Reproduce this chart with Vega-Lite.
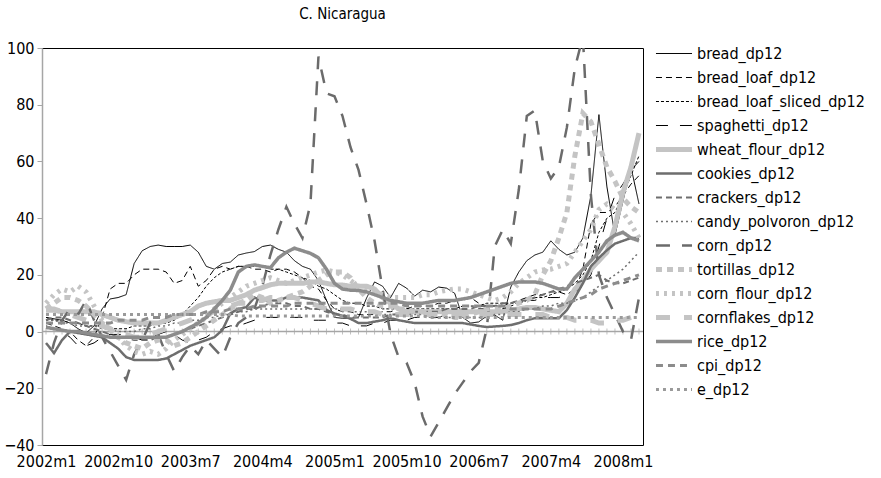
{
"$schema": "https://vega.github.io/schema/vega-lite/v6.json",
"width": 601, "height": 397,
"autosize": {"type": "none"},
"padding": {"left": 42, "top": 48, "right": 238, "bottom": 33},
"title": {"text": "C. Nicaragua", "fontSize": 15, "fontWeight": "normal", "offset": 18, "color": "#000", "font": "Liberation Sans Narrow, DejaVu Sans Condensed, Liberation Sans, sans-serif"},
"config": {
  "font": "Liberation Sans Narrow, DejaVu Sans Condensed, Liberation Sans, sans-serif",
  "view": {"stroke": "#000", "strokeWidth": 1},
  "axis": {"grid": false},
  "legend": {"labelFontSize": 16, "labelColor": "#000", "symbolSize": 1300, "clipHeight": 21, "rowPadding": 3, "labelOffset": 4, "padding": 0, "labelLimit": 300, "symbolType": "stroke"}
},
"datasets": {
"bread": [{"t":0,"v":5},{"t":1,"v":4.5},{"t":2,"v":4},{"t":3,"v":3},{"t":4,"v":1},{"t":5,"v":-0.5},{"t":6,"v":2},{"t":7,"v":8},{"t":8,"v":11.5},{"t":9,"v":12},{"t":10,"v":13},{"t":11,"v":24},{"t":12,"v":28.5},{"t":13,"v":30},{"t":14,"v":30.5},{"t":15,"v":30},{"t":16,"v":30},{"t":17,"v":30},{"t":18,"v":30.5},{"t":19,"v":28},{"t":20,"v":23},{"t":21,"v":22},{"t":22,"v":24},{"t":23,"v":24.5},{"t":24,"v":27},{"t":25,"v":27.7},{"t":26,"v":28.2},{"t":27,"v":30},{"t":28,"v":30.5},{"t":29,"v":29},{"t":30,"v":28},{"t":31,"v":25},{"t":32,"v":23},{"t":33,"v":22},{"t":34,"v":18},{"t":35,"v":11},{"t":36,"v":5},{"t":37,"v":4.7},{"t":38,"v":4.7},{"t":39,"v":5},{"t":40,"v":11.8},{"t":41,"v":17.5},{"t":42,"v":16},{"t":43,"v":12},{"t":44,"v":17},{"t":45,"v":15.3},{"t":46,"v":12.5},{"t":47,"v":14.6},{"t":48,"v":14},{"t":49,"v":15.7},{"t":50,"v":15.3},{"t":51,"v":13.5},{"t":52,"v":5},{"t":53,"v":3},{"t":54,"v":3.4},{"t":55,"v":5.5},{"t":56,"v":5.8},{"t":57,"v":4},{"t":58,"v":15.7},{"t":59,"v":21},{"t":60,"v":25},{"t":61,"v":27},{"t":62,"v":28},{"t":63,"v":32},{"t":64,"v":29},{"t":65,"v":27},{"t":66,"v":28},{"t":67,"v":33},{"t":68,"v":48},{"t":69,"v":76.5},{"t":70,"v":51},{"t":71,"v":34},{"t":72,"v":46},{"t":73,"v":58},{"t":74,"v":45}],
"bread_loaf": [{"t":0,"v":3},{"t":1,"v":2},{"t":2,"v":1},{"t":3,"v":0},{"t":4,"v":-3},{"t":5,"v":-5},{"t":6,"v":-2},{"t":7,"v":5},{"t":8,"v":15},{"t":9,"v":17},{"t":10,"v":17},{"t":11,"v":20},{"t":12,"v":22},{"t":13,"v":22},{"t":14,"v":22},{"t":15,"v":21},{"t":16,"v":17},{"t":17,"v":18},{"t":18,"v":23},{"t":19,"v":16},{"t":20,"v":18},{"t":21,"v":22},{"t":22,"v":23},{"t":23,"v":22},{"t":24,"v":23},{"t":25,"v":23},{"t":26,"v":22},{"t":27,"v":22},{"t":28,"v":21},{"t":29,"v":22},{"t":30,"v":22},{"t":31,"v":21},{"t":32,"v":19},{"t":33,"v":16},{"t":34,"v":15},{"t":35,"v":11},{"t":36,"v":8},{"t":37,"v":7},{"t":38,"v":7},{"t":39,"v":6},{"t":40,"v":6},{"t":41,"v":6},{"t":42,"v":7},{"t":43,"v":7},{"t":44,"v":8},{"t":45,"v":8},{"t":46,"v":9},{"t":47,"v":9},{"t":48,"v":9},{"t":49,"v":10},{"t":50,"v":10},{"t":51,"v":11},{"t":52,"v":11},{"t":53,"v":12},{"t":54,"v":10},{"t":55,"v":9},{"t":56,"v":9},{"t":57,"v":9},{"t":58,"v":10},{"t":59,"v":11},{"t":60,"v":12},{"t":61,"v":13},{"t":62,"v":13},{"t":63,"v":14},{"t":64,"v":14},{"t":65,"v":13},{"t":66,"v":15},{"t":67,"v":22},{"t":68,"v":38},{"t":69,"v":42},{"t":70,"v":42},{"t":71,"v":44},{"t":72,"v":48},{"t":73,"v":52},{"t":74,"v":55}],
"bread_loaf_sliced": [{"t":0,"v":5},{"t":1,"v":4},{"t":2,"v":4},{"t":3,"v":3},{"t":4,"v":3},{"t":5,"v":2},{"t":6,"v":2},{"t":7,"v":2},{"t":8,"v":1},{"t":9,"v":1},{"t":10,"v":1},{"t":11,"v":2},{"t":12,"v":2},{"t":13,"v":2},{"t":14,"v":3},{"t":15,"v":3},{"t":16,"v":4},{"t":17,"v":6},{"t":18,"v":9},{"t":19,"v":12},{"t":20,"v":16},{"t":21,"v":19},{"t":22,"v":21},{"t":23,"v":22},{"t":24,"v":23},{"t":25,"v":23},{"t":26,"v":23},{"t":27,"v":23},{"t":28,"v":22},{"t":29,"v":22},{"t":30,"v":21},{"t":31,"v":20},{"t":32,"v":19},{"t":33,"v":18},{"t":34,"v":16},{"t":35,"v":15},{"t":36,"v":13},{"t":37,"v":11},{"t":38,"v":10},{"t":39,"v":10},{"t":40,"v":9},{"t":41,"v":9},{"t":42,"v":8},{"t":43,"v":8},{"t":44,"v":8},{"t":45,"v":8},{"t":46,"v":8},{"t":47,"v":8},{"t":48,"v":8},{"t":49,"v":8},{"t":50,"v":8},{"t":51,"v":8},{"t":52,"v":9},{"t":53,"v":9},{"t":54,"v":9},{"t":55,"v":10},{"t":56,"v":10},{"t":57,"v":10},{"t":58,"v":10},{"t":59,"v":10},{"t":60,"v":11},{"t":61,"v":12},{"t":62,"v":12},{"t":63,"v":13},{"t":64,"v":14},{"t":65,"v":15},{"t":66,"v":17},{"t":67,"v":20},{"t":68,"v":25},{"t":69,"v":35},{"t":70,"v":40},{"t":71,"v":42},{"t":72,"v":48},{"t":73,"v":55},{"t":74,"v":62}],
"spaghetti": [{"t":0,"v":2},{"t":1,"v":1},{"t":2,"v":0},{"t":3,"v":-2},{"t":4,"v":-5},{"t":5,"v":-5},{"t":6,"v":-4},{"t":7,"v":-2},{"t":8,"v":-1},{"t":9,"v":-1},{"t":10,"v":-1},{"t":11,"v":-2},{"t":12,"v":-3},{"t":13,"v":-2},{"t":14,"v":-1},{"t":15,"v":0},{"t":16,"v":-1},{"t":17,"v":-3},{"t":18,"v":-4},{"t":19,"v":-3},{"t":20,"v":-2},{"t":21,"v":0},{"t":22,"v":1},{"t":23,"v":2},{"t":24,"v":2},{"t":25,"v":3},{"t":26,"v":4},{"t":27,"v":5},{"t":28,"v":5},{"t":29,"v":5},{"t":30,"v":5},{"t":31,"v":5},{"t":32,"v":5},{"t":33,"v":4},{"t":34,"v":4},{"t":35,"v":4},{"t":36,"v":3},{"t":37,"v":3},{"t":38,"v":2},{"t":39,"v":2},{"t":40,"v":2},{"t":41,"v":3},{"t":42,"v":3},{"t":43,"v":4},{"t":44,"v":4},{"t":45,"v":4},{"t":46,"v":5},{"t":47,"v":5},{"t":48,"v":5},{"t":49,"v":5},{"t":50,"v":6},{"t":51,"v":6},{"t":52,"v":7},{"t":53,"v":7},{"t":54,"v":8},{"t":55,"v":8},{"t":56,"v":8},{"t":57,"v":8},{"t":58,"v":9},{"t":59,"v":10},{"t":60,"v":11},{"t":61,"v":11},{"t":62,"v":12},{"t":63,"v":12},{"t":64,"v":12},{"t":65,"v":13},{"t":66,"v":14},{"t":67,"v":16},{"t":68,"v":20},{"t":69,"v":30},{"t":70,"v":40},{"t":71,"v":48},{"t":72,"v":52},{"t":73,"v":57},{"t":74,"v":60}],
"wheat_flour": [{"t":0,"v":7.5},{"t":1,"v":7.5},{"t":2,"v":7},{"t":3,"v":7},{"t":4,"v":7},{"t":5,"v":7},{"t":6,"v":7},{"t":7,"v":6},{"t":8,"v":5},{"t":9,"v":4},{"t":10,"v":3.5},{"t":11,"v":3},{"t":12,"v":3},{"t":13,"v":3},{"t":14,"v":3},{"t":15,"v":4},{"t":16,"v":5},{"t":17,"v":6},{"t":18,"v":7},{"t":19,"v":9},{"t":20,"v":10},{"t":21,"v":10.5},{"t":22,"v":11},{"t":23,"v":11},{"t":24,"v":12},{"t":25,"v":13},{"t":26,"v":14.6},{"t":27,"v":15.5},{"t":28,"v":16.5},{"t":29,"v":17},{"t":30,"v":17},{"t":31,"v":17},{"t":32,"v":17},{"t":33,"v":17.5},{"t":34,"v":17.5},{"t":35,"v":17},{"t":36,"v":16.5},{"t":37,"v":16.4},{"t":38,"v":16},{"t":39,"v":16},{"t":40,"v":16},{"t":41,"v":15},{"t":42,"v":12},{"t":43,"v":10},{"t":44,"v":8},{"t":45,"v":7},{"t":46,"v":7},{"t":47,"v":7},{"t":48,"v":7},{"t":49,"v":7},{"t":50,"v":7},{"t":51,"v":7},{"t":52,"v":7},{"t":53,"v":7},{"t":54,"v":7},{"t":55,"v":7},{"t":56,"v":7},{"t":57,"v":7},{"t":58,"v":7.5},{"t":59,"v":8},{"t":60,"v":8.5},{"t":61,"v":8.5},{"t":62,"v":8},{"t":63,"v":7.5},{"t":64,"v":7},{"t":65,"v":10},{"t":66,"v":15},{"t":67,"v":18},{"t":68,"v":22},{"t":69,"v":25},{"t":70,"v":28},{"t":71,"v":37},{"t":72,"v":49},{"t":73,"v":58},{"t":74,"v":70}],
"cookies": [{"t":0,"v":-4},{"t":1,"v":-7.6},{"t":2,"v":-3},{"t":3,"v":0},{"t":4,"v":-0.5},{"t":5,"v":-1},{"t":6,"v":-1.5},{"t":7,"v":-2},{"t":8,"v":-4},{"t":9,"v":-6},{"t":10,"v":-9},{"t":11,"v":-10},{"t":12,"v":-10},{"t":13,"v":-10},{"t":14,"v":-10},{"t":15,"v":-9.5},{"t":16,"v":-8},{"t":17,"v":-6.5},{"t":18,"v":-5},{"t":19,"v":-4},{"t":20,"v":-3},{"t":21,"v":-2},{"t":22,"v":0.5},{"t":23,"v":6.4},{"t":24,"v":8},{"t":25,"v":8.6},{"t":26,"v":12},{"t":27,"v":11},{"t":28,"v":11},{"t":29,"v":11},{"t":30,"v":12},{"t":31,"v":12},{"t":32,"v":12},{"t":33,"v":11.5},{"t":34,"v":11},{"t":35,"v":7.6},{"t":36,"v":6.4},{"t":37,"v":5.5},{"t":38,"v":4.5},{"t":39,"v":3},{"t":40,"v":3},{"t":41,"v":3.5},{"t":42,"v":4},{"t":43,"v":4.7},{"t":44,"v":4},{"t":45,"v":3.5},{"t":46,"v":3},{"t":47,"v":3},{"t":48,"v":3},{"t":49,"v":3},{"t":50,"v":3},{"t":51,"v":3},{"t":52,"v":3},{"t":53,"v":2.5},{"t":54,"v":2},{"t":55,"v":1.6},{"t":56,"v":1.8},{"t":57,"v":2},{"t":58,"v":2.3},{"t":59,"v":3},{"t":60,"v":4},{"t":61,"v":4.7},{"t":62,"v":4.7},{"t":63,"v":4.7},{"t":64,"v":4.7},{"t":65,"v":7.6},{"t":66,"v":12},{"t":67,"v":17},{"t":68,"v":23},{"t":69,"v":26},{"t":70,"v":28.7},{"t":71,"v":31},{"t":72,"v":32},{"t":73,"v":33},{"t":74,"v":33}],
"crackers": [{"t":0,"v":4},{"t":1,"v":5},{"t":2,"v":5},{"t":3,"v":4},{"t":4,"v":3},{"t":5,"v":2},{"t":6,"v":1},{"t":7,"v":0},{"t":8,"v":-1},{"t":9,"v":-2},{"t":10,"v":-2},{"t":11,"v":-3},{"t":12,"v":-3},{"t":13,"v":-3},{"t":14,"v":-2},{"t":15,"v":-2},{"t":16,"v":-1},{"t":17,"v":0},{"t":18,"v":1},{"t":19,"v":2},{"t":20,"v":3},{"t":21,"v":4},{"t":22,"v":5},{"t":23,"v":6},{"t":24,"v":7},{"t":25,"v":8},{"t":26,"v":8},{"t":27,"v":9},{"t":28,"v":10},{"t":29,"v":10},{"t":30,"v":10},{"t":31,"v":9},{"t":32,"v":9},{"t":33,"v":8},{"t":34,"v":8},{"t":35,"v":7},{"t":36,"v":6},{"t":37,"v":6},{"t":38,"v":5},{"t":39,"v":5},{"t":40,"v":5},{"t":41,"v":5},{"t":42,"v":5},{"t":43,"v":6},{"t":44,"v":6},{"t":45,"v":6},{"t":46,"v":7},{"t":47,"v":7},{"t":48,"v":7},{"t":49,"v":7},{"t":50,"v":8},{"t":51,"v":8},{"t":52,"v":8},{"t":53,"v":8},{"t":54,"v":9},{"t":55,"v":9},{"t":56,"v":9},{"t":57,"v":10},{"t":58,"v":10},{"t":59,"v":11},{"t":60,"v":11},{"t":61,"v":12},{"t":62,"v":13},{"t":63,"v":14},{"t":64,"v":15},{"t":65,"v":16},{"t":66,"v":17},{"t":67,"v":18},{"t":68,"v":19},{"t":69,"v":20},{"t":70,"v":18},{"t":71,"v":17},{"t":72,"v":17},{"t":73,"v":18},{"t":74,"v":19}],
"candy_polvoron": [{"t":0,"v":4},{"t":1,"v":4},{"t":2,"v":3},{"t":3,"v":3},{"t":4,"v":2},{"t":5,"v":2},{"t":6,"v":2},{"t":7,"v":1},{"t":8,"v":1},{"t":9,"v":0},{"t":10,"v":0},{"t":11,"v":0},{"t":12,"v":1},{"t":13,"v":1},{"t":14,"v":2},{"t":15,"v":2},{"t":16,"v":3},{"t":17,"v":3},{"t":18,"v":4},{"t":19,"v":4},{"t":20,"v":5},{"t":21,"v":5},{"t":22,"v":6},{"t":23,"v":6},{"t":24,"v":7},{"t":25,"v":7},{"t":26,"v":8},{"t":27,"v":8},{"t":28,"v":8},{"t":29,"v":8},{"t":30,"v":8},{"t":31,"v":8},{"t":32,"v":8},{"t":33,"v":8},{"t":34,"v":8},{"t":35,"v":8},{"t":36,"v":8},{"t":37,"v":8},{"t":38,"v":7},{"t":39,"v":7},{"t":40,"v":7},{"t":41,"v":7},{"t":42,"v":6},{"t":43,"v":6},{"t":44,"v":6},{"t":45,"v":6},{"t":46,"v":6},{"t":47,"v":6},{"t":48,"v":5},{"t":49,"v":5},{"t":50,"v":5},{"t":51,"v":5},{"t":52,"v":5},{"t":53,"v":5},{"t":54,"v":5},{"t":55,"v":5},{"t":56,"v":6},{"t":57,"v":6},{"t":58,"v":7},{"t":59,"v":7},{"t":60,"v":8},{"t":61,"v":8},{"t":62,"v":9},{"t":63,"v":9},{"t":64,"v":10},{"t":65,"v":10},{"t":66,"v":11},{"t":67,"v":12},{"t":68,"v":14},{"t":69,"v":16},{"t":70,"v":18},{"t":71,"v":20},{"t":72,"v":22},{"t":73,"v":25},{"t":74,"v":28}],
"corn": [{"t":0,"v":-15},{"t":1,"v":-4},{"t":2,"v":4},{"t":3,"v":8},{"t":4,"v":6},{"t":5,"v":11},{"t":6,"v":4},{"t":7,"v":-2},{"t":8,"v":-7},{"t":9,"v":-12},{"t":10,"v":-17},{"t":11,"v":-8},{"t":12,"v":-3},{"t":13,"v":3},{"t":14,"v":-1},{"t":15,"v":-8},{"t":16,"v":-14},{"t":17,"v":-9},{"t":18,"v":-5},{"t":19,"v":-8},{"t":20,"v":-3},{"t":21,"v":-6},{"t":22,"v":-9},{"t":23,"v":-2},{"t":24,"v":3},{"t":25,"v":5},{"t":26,"v":8},{"t":27,"v":16},{"t":28,"v":27},{"t":29,"v":36},{"t":30,"v":44},{"t":31,"v":38},{"t":32,"v":33},{"t":33,"v":45},{"t":34,"v":97},{"t":35,"v":84},{"t":36,"v":83},{"t":37,"v":76},{"t":38,"v":65},{"t":39,"v":57},{"t":40,"v":45},{"t":41,"v":32},{"t":42,"v":15},{"t":43,"v":-1},{"t":44,"v":-9},{"t":45,"v":-11},{"t":46,"v":-18},{"t":47,"v":-30},{"t":48,"v":-37},{"t":49,"v":-32},{"t":50,"v":-27},{"t":51,"v":-22},{"t":52,"v":-18},{"t":53,"v":-14},{"t":54,"v":-11},{"t":55,"v":1},{"t":56,"v":30},{"t":57,"v":36},{"t":58,"v":31},{"t":59,"v":50},{"t":60,"v":76},{"t":61,"v":78},{"t":62,"v":60},{"t":63,"v":54},{"t":64,"v":58},{"t":65,"v":72},{"t":66,"v":93},{"t":67,"v":104},{"t":68,"v":48},{"t":69,"v":20},{"t":70,"v":12},{"t":71,"v":6},{"t":72,"v":0},{"t":73,"v":-3},{"t":74,"v":12}],
"tortillas": [{"t":0,"v":8},{"t":1,"v":10},{"t":2,"v":12},{"t":3,"v":12},{"t":4,"v":11},{"t":5,"v":9},{"t":6,"v":6},{"t":7,"v":3},{"t":8,"v":1},{"t":9,"v":-2},{"t":10,"v":-4},{"t":11,"v":-5},{"t":12,"v":-6},{"t":13,"v":-4},{"t":14,"v":-3},{"t":15,"v":-3},{"t":16,"v":-5},{"t":17,"v":-4},{"t":18,"v":-2},{"t":19,"v":0},{"t":20,"v":2},{"t":21,"v":4},{"t":22,"v":6},{"t":23,"v":8},{"t":24,"v":10},{"t":25,"v":11},{"t":26,"v":13},{"t":27,"v":12},{"t":28,"v":10},{"t":29,"v":11},{"t":30,"v":12},{"t":31,"v":13},{"t":32,"v":14},{"t":33,"v":16},{"t":34,"v":18},{"t":35,"v":20},{"t":36,"v":21},{"t":37,"v":21},{"t":38,"v":19},{"t":39,"v":15},{"t":40,"v":12},{"t":41,"v":10},{"t":42,"v":9},{"t":43,"v":9},{"t":44,"v":8},{"t":45,"v":8},{"t":46,"v":7},{"t":47,"v":7},{"t":48,"v":6},{"t":49,"v":6},{"t":50,"v":6},{"t":51,"v":5},{"t":52,"v":5},{"t":53,"v":6},{"t":54,"v":7},{"t":55,"v":8},{"t":56,"v":8},{"t":57,"v":8},{"t":58,"v":9},{"t":59,"v":10},{"t":60,"v":11},{"t":61,"v":13},{"t":62,"v":20},{"t":63,"v":25},{"t":64,"v":33},{"t":65,"v":42},{"t":66,"v":62},{"t":67,"v":77},{"t":68,"v":74},{"t":69,"v":66},{"t":70,"v":58},{"t":71,"v":53},{"t":72,"v":47},{"t":73,"v":44},{"t":74,"v":42}],
"corn_flour": [{"t":0,"v":10},{"t":1,"v":13},{"t":2,"v":15},{"t":3,"v":14},{"t":4,"v":16},{"t":5,"v":14},{"t":6,"v":9},{"t":7,"v":4},{"t":8,"v":1},{"t":9,"v":-2},{"t":10,"v":-5},{"t":11,"v":-7},{"t":12,"v":-8},{"t":13,"v":-7},{"t":14,"v":-8},{"t":15,"v":-6},{"t":16,"v":-3},{"t":17,"v":-1},{"t":18,"v":1},{"t":19,"v":3},{"t":20,"v":5},{"t":21,"v":8},{"t":22,"v":10},{"t":23,"v":12},{"t":24,"v":14},{"t":25,"v":16},{"t":26,"v":17},{"t":27,"v":18},{"t":28,"v":19},{"t":29,"v":18},{"t":30,"v":17},{"t":31,"v":18},{"t":32,"v":19},{"t":33,"v":20},{"t":34,"v":21},{"t":35,"v":21.7},{"t":36,"v":21},{"t":37,"v":20},{"t":38,"v":18},{"t":39,"v":16},{"t":40,"v":15},{"t":41,"v":14},{"t":42,"v":13},{"t":43,"v":12},{"t":44,"v":12},{"t":45,"v":12},{"t":46,"v":12},{"t":47,"v":13},{"t":48,"v":13},{"t":49,"v":14},{"t":50,"v":14.6},{"t":51,"v":15},{"t":52,"v":15},{"t":53,"v":14},{"t":54,"v":13},{"t":55,"v":12},{"t":56,"v":11},{"t":57,"v":12},{"t":58,"v":14},{"t":59,"v":17},{"t":60,"v":19},{"t":61,"v":21},{"t":62,"v":21.7},{"t":63,"v":22},{"t":64,"v":23},{"t":65,"v":24},{"t":66,"v":28},{"t":67,"v":32},{"t":68,"v":36},{"t":69,"v":43},{"t":70,"v":45},{"t":71,"v":43},{"t":72,"v":42},{"t":73,"v":38},{"t":74,"v":33}],
"cornflakes": [{"t":0,"v":8},{"t":1,"v":8},{"t":2,"v":7},{"t":3,"v":6},{"t":4,"v":5},{"t":5,"v":4},{"t":6,"v":3},{"t":7,"v":2},{"t":8,"v":1},{"t":9,"v":0},{"t":10,"v":-1},{"t":11,"v":-2},{"t":12,"v":-2},{"t":13,"v":-1},{"t":14,"v":0},{"t":15,"v":1},{"t":16,"v":2},{"t":17,"v":3},{"t":18,"v":4},{"t":19,"v":5},{"t":20,"v":6},{"t":21,"v":7},{"t":22,"v":8},{"t":23,"v":9},{"t":24,"v":10},{"t":25,"v":10},{"t":26,"v":11},{"t":27,"v":11},{"t":28,"v":12},{"t":29,"v":12},{"t":30,"v":12},{"t":31,"v":12},{"t":32,"v":11},{"t":33,"v":10},{"t":34,"v":9},{"t":35,"v":8},{"t":36,"v":8},{"t":37,"v":8},{"t":38,"v":8},{"t":39,"v":7},{"t":40,"v":7},{"t":41,"v":7},{"t":42,"v":6},{"t":43,"v":6},{"t":44,"v":6},{"t":45,"v":6},{"t":46,"v":6},{"t":47,"v":6},{"t":48,"v":6},{"t":49,"v":6},{"t":50,"v":6},{"t":51,"v":6},{"t":52,"v":6},{"t":53,"v":6},{"t":54,"v":6},{"t":55,"v":6},{"t":56,"v":6},{"t":57,"v":6},{"t":58,"v":6},{"t":59,"v":6},{"t":60,"v":6},{"t":61,"v":6},{"t":62,"v":6},{"t":63,"v":5},{"t":64,"v":5},{"t":65,"v":5},{"t":66,"v":4},{"t":67,"v":4},{"t":68,"v":4},{"t":69,"v":3},{"t":70,"v":3},{"t":71,"v":4},{"t":72,"v":4},{"t":73,"v":5},{"t":74,"v":5}],
"rice": [{"t":0,"v":1.5},{"t":1,"v":1},{"t":2,"v":0.5},{"t":3,"v":0},{"t":4,"v":0},{"t":5,"v":-0.5},{"t":6,"v":-1},{"t":7,"v":-1.5},{"t":8,"v":-2},{"t":9,"v":-2},{"t":10,"v":-2},{"t":11,"v":-2},{"t":12,"v":-2},{"t":13,"v":-2},{"t":14,"v":-2},{"t":15,"v":-2},{"t":16,"v":-1},{"t":17,"v":0},{"t":18,"v":1.5},{"t":19,"v":3},{"t":20,"v":5},{"t":21,"v":8},{"t":22,"v":11},{"t":23,"v":14.6},{"t":24,"v":21},{"t":25,"v":23},{"t":26,"v":23.5},{"t":27,"v":23},{"t":28,"v":22.5},{"t":29,"v":26},{"t":30,"v":28},{"t":31,"v":29.4},{"t":32,"v":28.5},{"t":33,"v":27.6},{"t":34,"v":26},{"t":35,"v":22},{"t":36,"v":17},{"t":37,"v":15},{"t":38,"v":14.6},{"t":39,"v":14.5},{"t":40,"v":14},{"t":41,"v":13},{"t":42,"v":12},{"t":43,"v":11},{"t":44,"v":10.5},{"t":45,"v":10},{"t":46,"v":10},{"t":47,"v":10},{"t":48,"v":10.5},{"t":49,"v":11},{"t":50,"v":11},{"t":51,"v":11},{"t":52,"v":11.5},{"t":53,"v":12},{"t":54,"v":13},{"t":55,"v":14},{"t":56,"v":15},{"t":57,"v":16},{"t":58,"v":17},{"t":59,"v":17.5},{"t":60,"v":17.5},{"t":61,"v":17.5},{"t":62,"v":17},{"t":63,"v":16},{"t":64,"v":15},{"t":65,"v":15},{"t":66,"v":19},{"t":67,"v":22},{"t":68,"v":25},{"t":69,"v":28},{"t":70,"v":32},{"t":71,"v":34},{"t":72,"v":35},{"t":73,"v":33},{"t":74,"v":32}],
"cpi": [{"t":0,"v":3},{"t":1,"v":3},{"t":2,"v":3},{"t":3,"v":3},{"t":4,"v":3},{"t":5,"v":3},{"t":6,"v":3},{"t":7,"v":3},{"t":8,"v":3},{"t":9,"v":4},{"t":10,"v":4},{"t":11,"v":4},{"t":12,"v":4},{"t":13,"v":5},{"t":14,"v":5},{"t":15,"v":5},{"t":16,"v":6},{"t":17,"v":6},{"t":18,"v":6},{"t":19,"v":6},{"t":20,"v":7},{"t":21,"v":7},{"t":22,"v":7},{"t":23,"v":8},{"t":24,"v":8},{"t":25,"v":8},{"t":26,"v":9},{"t":27,"v":9},{"t":28,"v":9},{"t":29,"v":9},{"t":30,"v":9},{"t":31,"v":10},{"t":32,"v":10},{"t":33,"v":10},{"t":34,"v":10},{"t":35,"v":10},{"t":36,"v":10},{"t":37,"v":10},{"t":38,"v":10},{"t":39,"v":10},{"t":40,"v":10},{"t":41,"v":10},{"t":42,"v":10},{"t":43,"v":10},{"t":44,"v":10},{"t":45,"v":9},{"t":46,"v":9},{"t":47,"v":9},{"t":48,"v":9},{"t":49,"v":9},{"t":50,"v":9},{"t":51,"v":9},{"t":52,"v":9},{"t":53,"v":9},{"t":54,"v":9},{"t":55,"v":9},{"t":56,"v":9},{"t":57,"v":9},{"t":58,"v":8},{"t":59,"v":8},{"t":60,"v":8},{"t":61,"v":8},{"t":62,"v":8},{"t":63,"v":8},{"t":64,"v":9},{"t":65,"v":10},{"t":66,"v":11},{"t":67,"v":12},{"t":68,"v":13},{"t":69,"v":15},{"t":70,"v":16},{"t":71,"v":17},{"t":72,"v":18},{"t":73,"v":19},{"t":74,"v":20}],
"e": [{"t":0,"v":6},{"t":1,"v":6},{"t":2,"v":6},{"t":3,"v":6},{"t":4,"v":6},{"t":5,"v":6},{"t":6,"v":6},{"t":7,"v":6},{"t":8,"v":6},{"t":9,"v":6},{"t":10,"v":6},{"t":11,"v":6},{"t":12,"v":6},{"t":13,"v":6},{"t":14,"v":6},{"t":15,"v":6},{"t":16,"v":6},{"t":17,"v":6},{"t":18,"v":6},{"t":19,"v":6},{"t":20,"v":6},{"t":21,"v":6},{"t":22,"v":6},{"t":23,"v":6},{"t":24,"v":5.5},{"t":25,"v":5.5},{"t":26,"v":5.5},{"t":27,"v":5.5},{"t":28,"v":5.5},{"t":29,"v":5.5},{"t":30,"v":5.5},{"t":31,"v":5.5},{"t":32,"v":5.5},{"t":33,"v":5.5},{"t":34,"v":5.5},{"t":35,"v":5.5},{"t":36,"v":5.5},{"t":37,"v":5.5},{"t":38,"v":5.5},{"t":39,"v":5.5},{"t":40,"v":5.5},{"t":41,"v":5.5},{"t":42,"v":5.5},{"t":43,"v":5.5},{"t":44,"v":5.5},{"t":45,"v":5.5},{"t":46,"v":5.5},{"t":47,"v":5.5},{"t":48,"v":5},{"t":49,"v":5},{"t":50,"v":5},{"t":51,"v":5},{"t":52,"v":5},{"t":53,"v":5},{"t":54,"v":5},{"t":55,"v":5},{"t":56,"v":5},{"t":57,"v":5},{"t":58,"v":5},{"t":59,"v":5},{"t":60,"v":5},{"t":61,"v":5},{"t":62,"v":5},{"t":63,"v":5},{"t":64,"v":5},{"t":65,"v":5},{"t":66,"v":5},{"t":67,"v":5},{"t":68,"v":5},{"t":69,"v":5},{"t":70,"v":5},{"t":71,"v":5},{"t":72,"v":5},{"t":73,"v":5},{"t":74,"v":5}]
},
"layer": [
  {"data": {"values": [{}]}, "mark": {"type": "rule", "color": "#a6a6a6", "strokeWidth": 1.5},
   "encoding": {"y": {"datum": 0, "type": "quantitative",
     "scale": {"domain": [-40, 100], "nice": false, "zero": false},
     "axis": {"values": [-40,-20,0,20,40,60,80,100], "title": null, "domainColor": "#a6a6a6", "domainWidth": 1.5, "tickColor": "#a6a6a6", "tickSize": 5, "labelFontSize": 16, "labelPadding": 3, "labelColor": "#000", "grid": false}}}},
  {"data": {"name": "e"}, "mark": {"type": "tick", "orient": "vertical", "size": 6, "thickness": 1, "color": "#a6a6a6"},
   "encoding": {"x": {"field": "t", "type": "quantitative",
     "scale": {"domain": [-0.5, 74.5], "nice": false, "zero": false},
     "axis": {"values": [0,9,18,27,36,45,54,63,72], "labelExpr": "(2002 + floor(datum.value / 12)) + 'm' + (datum.value % 12 + 1)", "title": null, "ticks": false, "domain": false, "labelFontSize": 16, "labelPadding": 8, "labelColor": "#000", "labelFlush": false, "grid": false}},
     "y": {"datum": 0, "type": "quantitative"}}},
  {"data": {"name": "bread"}, "mark": {"type": "line", "clip": true, "strokeWidth": 1},
   "encoding": {"x": {"field": "t", "type": "quantitative"}, "y": {"field": "v", "type": "quantitative"},
     "color": {"datum": "bread_dp12", "type": "nominal",
       "scale": {"domain": ["bread_dp12","bread_loaf_dp12","bread_loaf_sliced_dp12","spaghetti_dp12","wheat_flour_dp12","cookies_dp12","crackers_dp12","candy_polvoron_dp12","corn_dp12","tortillas_dp12","corn_flour_dp12","cornflakes_dp12","rice_dp12","cpi_dp12","e_dp12"],
                 "range": ["#000000","#000000","#000000","#000000","#c4c4c4","#6e6e6e","#6e6e6e","#6e6e6e","#6b6b6b","#c4c4c4","#c4c4c4","#c4c4c4","#8c8c8c","#8c8c8c","#9a9a9a"]},
       "legend": {"title": null, "orient": "none", "legendX": 613, "legendY": -5,
         "encode": {"symbols": {"update": {"strokeWidth": {"signal": "(indexof(['wheat_flour_dp12','tortillas_dp12','corn_flour_dp12','cornflakes_dp12'], datum.value) >= 0 ? 5 : (datum.value === 'rice_dp12' ? 3.5 : (indexof(['cpi_dp12','e_dp12'], datum.value) >= 0 ? 3 : (indexof(['cookies_dp12','corn_dp12'], datum.value) >= 0 ? 2.5 : (datum.value === 'crackers_dp12' ? 2 : (datum.value === 'candy_polvoron_dp12' ? 1.5 : 1))))))"}}}}}},
     "strokeDash": {"datum": "bread_dp12", "type": "nominal",
       "scale": {"domain": ["bread_dp12","bread_loaf_dp12","bread_loaf_sliced_dp12","spaghetti_dp12","wheat_flour_dp12","cookies_dp12","crackers_dp12","candy_polvoron_dp12","corn_dp12","tortillas_dp12","corn_flour_dp12","cornflakes_dp12","rice_dp12","cpi_dp12","e_dp12"],
                 "range": [[1,0],[6,4],[3,2],[12,12],[1,0],[1,0],[6,4],[2,3],[14,12],[6,5],[3,5],[14,14],[1,0],[7,5],[3,4]]},
       "legend": {"title": null, "orient": "none", "legendX": 613, "legendY": -5}}}},
  {"data": {"name": "bread_loaf"}, "mark": {"type": "line", "clip": true, "strokeWidth": 1}, "encoding": {"x": {"field": "t", "type": "quantitative"}, "y": {"field": "v", "type": "quantitative"}, "color": {"datum": "bread_loaf_dp12", "type": "nominal"}, "strokeDash": {"datum": "bread_loaf_dp12", "type": "nominal"}}},
  {"data": {"name": "bread_loaf_sliced"}, "mark": {"type": "line", "clip": true, "strokeWidth": 1}, "encoding": {"x": {"field": "t", "type": "quantitative"}, "y": {"field": "v", "type": "quantitative"}, "color": {"datum": "bread_loaf_sliced_dp12", "type": "nominal"}, "strokeDash": {"datum": "bread_loaf_sliced_dp12", "type": "nominal"}}},
  {"data": {"name": "spaghetti"}, "mark": {"type": "line", "clip": true, "strokeWidth": 1}, "encoding": {"x": {"field": "t", "type": "quantitative"}, "y": {"field": "v", "type": "quantitative"}, "color": {"datum": "spaghetti_dp12", "type": "nominal"}, "strokeDash": {"datum": "spaghetti_dp12", "type": "nominal"}}},
  {"data": {"name": "wheat_flour"}, "mark": {"type": "line", "clip": true, "strokeWidth": 5}, "encoding": {"x": {"field": "t", "type": "quantitative"}, "y": {"field": "v", "type": "quantitative"}, "color": {"datum": "wheat_flour_dp12", "type": "nominal"}, "strokeDash": {"datum": "wheat_flour_dp12", "type": "nominal"}}},
  {"data": {"name": "cookies"}, "mark": {"type": "line", "clip": true, "strokeWidth": 2.5}, "encoding": {"x": {"field": "t", "type": "quantitative"}, "y": {"field": "v", "type": "quantitative"}, "color": {"datum": "cookies_dp12", "type": "nominal"}, "strokeDash": {"datum": "cookies_dp12", "type": "nominal"}}},
  {"data": {"name": "crackers"}, "mark": {"type": "line", "clip": true, "strokeWidth": 2}, "encoding": {"x": {"field": "t", "type": "quantitative"}, "y": {"field": "v", "type": "quantitative"}, "color": {"datum": "crackers_dp12", "type": "nominal"}, "strokeDash": {"datum": "crackers_dp12", "type": "nominal"}}},
  {"data": {"name": "candy_polvoron"}, "mark": {"type": "line", "clip": true, "strokeWidth": 1.5}, "encoding": {"x": {"field": "t", "type": "quantitative"}, "y": {"field": "v", "type": "quantitative"}, "color": {"datum": "candy_polvoron_dp12", "type": "nominal"}, "strokeDash": {"datum": "candy_polvoron_dp12", "type": "nominal"}}},
  {"data": {"name": "corn"}, "mark": {"type": "line", "clip": true, "strokeWidth": 2.5}, "encoding": {"x": {"field": "t", "type": "quantitative"}, "y": {"field": "v", "type": "quantitative"}, "color": {"datum": "corn_dp12", "type": "nominal"}, "strokeDash": {"datum": "corn_dp12", "type": "nominal"}}},
  {"data": {"name": "tortillas"}, "mark": {"type": "line", "clip": true, "strokeWidth": 5}, "encoding": {"x": {"field": "t", "type": "quantitative"}, "y": {"field": "v", "type": "quantitative"}, "color": {"datum": "tortillas_dp12", "type": "nominal"}, "strokeDash": {"datum": "tortillas_dp12", "type": "nominal"}}},
  {"data": {"name": "corn_flour"}, "mark": {"type": "line", "clip": true, "strokeWidth": 5}, "encoding": {"x": {"field": "t", "type": "quantitative"}, "y": {"field": "v", "type": "quantitative"}, "color": {"datum": "corn_flour_dp12", "type": "nominal"}, "strokeDash": {"datum": "corn_flour_dp12", "type": "nominal"}}},
  {"data": {"name": "cornflakes"}, "mark": {"type": "line", "clip": true, "strokeWidth": 5}, "encoding": {"x": {"field": "t", "type": "quantitative"}, "y": {"field": "v", "type": "quantitative"}, "color": {"datum": "cornflakes_dp12", "type": "nominal"}, "strokeDash": {"datum": "cornflakes_dp12", "type": "nominal"}}},
  {"data": {"name": "rice"}, "mark": {"type": "line", "clip": true, "strokeWidth": 3.5}, "encoding": {"x": {"field": "t", "type": "quantitative"}, "y": {"field": "v", "type": "quantitative"}, "color": {"datum": "rice_dp12", "type": "nominal"}, "strokeDash": {"datum": "rice_dp12", "type": "nominal"}}},
  {"data": {"name": "cpi"}, "mark": {"type": "line", "clip": true, "strokeWidth": 3}, "encoding": {"x": {"field": "t", "type": "quantitative"}, "y": {"field": "v", "type": "quantitative"}, "color": {"datum": "cpi_dp12", "type": "nominal"}, "strokeDash": {"datum": "cpi_dp12", "type": "nominal"}}},
  {"data": {"name": "e"}, "mark": {"type": "line", "clip": true, "strokeWidth": 3}, "encoding": {"x": {"field": "t", "type": "quantitative"}, "y": {"field": "v", "type": "quantitative"}, "color": {"datum": "e_dp12", "type": "nominal"}, "strokeDash": {"datum": "e_dp12", "type": "nominal"}}}
]
}
